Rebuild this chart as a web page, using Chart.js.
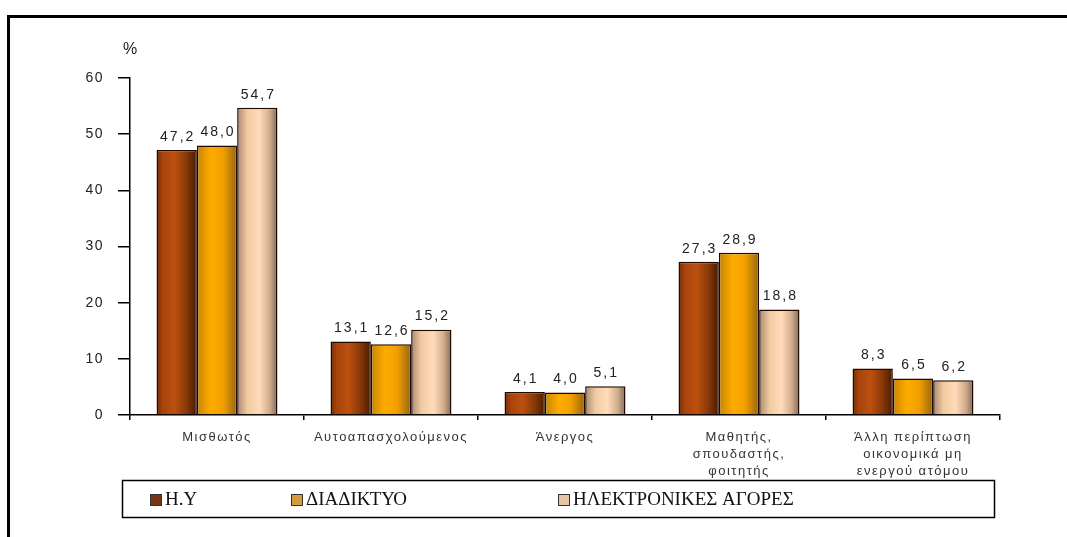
<!DOCTYPE html>
<html>
<head>
<meta charset="utf-8">
<script src="https://cdn.jsdelivr.net/npm/chart.js@4.4.1/dist/chart.umd.min.js"></script>
<style>
  html, body { margin: 0; padding: 0; background: #fff; overflow: hidden; }
  #frame { position: absolute; left: 7px; top: 15px; width: 1100px; height: 560px; border-left: 3px solid #000; border-top: 3px solid #000; }
  #wrap { position: absolute; left: 0; top: 0; width: 1067px; height: 537px; }
</style>
</head>
<body>
<div id="frame"></div>
<div id="wrap"><canvas id="chart"></canvas></div>
<script>
const categories = [
    'Μισθωτός',
    'Αυτοαπασχολούμενος',
    'Άνεργος',
    ['Μαθητής,', 'σπουδαστής,', 'φοιτητής'],
    ['Άλλη περίπτωση', 'οικονομικά μη', 'ενεργού ατόμου']
];
const seriesNames = ['Η.Υ', 'ΔΙΑΔΙΚΤΥΟ', 'ΗΛΕΚΤΡΟΝΙΚΕΣ ΑΓΟΡΕΣ'];
const pcValues = [47.2, 13.1, 4.1, 27.3, 8.3];
const internetValues = [48.0, 12.6, 4.0, 28.9, 6.5];
const eshopValues = [54.7, 15.2, 5.1, 18.8, 6.2];

const CAT_PCT = 0.695;

// shaded fills, left to right across each bar
const pcStops = [[0, '#6e2a02'], [0.15, '#a8440c'], [0.45, '#bc500f'], [0.75, '#863808'], [1, '#4a1a00']];
const internetStops = [[0, '#c88400'], [0.35, '#ffac00'], [0.65, '#f2a000'], [1, '#946410']];
const eshopStops = [[0, '#a88a70'], [0.25, '#f2c9a0'], [0.55, '#ffdcba'], [0.8, '#d4ae8c'], [1, '#7e6a5c']];
const legendColors = ['#7a3412', '#d49a3c', '#e6c6a6'];
const legendX = [150, 291, 558];

function barGradient(stops) {
    return function (context) {
        const chart = context.chart;
        const x = chart.scales.x;
        if (!x || context.dataIndex === undefined) {
            return stops[1][1];
        }
        const catW = x.width / categories.length;
        const slot = catW * CAT_PCT / 3;
        const left = x.getPixelForValue(context.dataIndex) - catW * CAT_PCT / 2 + slot * context.datasetIndex;
        if (!isFinite(left) || !isFinite(slot) || slot <= 0) {
            return stops[1][1];
        }
        const g = chart.ctx.createLinearGradient(left, 0, left + slot, 0);
        stops.forEach(s => g.addColorStop(s[0], s[1]));
        return g;
    };
}

// numbers above each bar, greek decimal comma
const valueLabels = {
    id: 'valueLabels',
    beforeDraw(chart) {
        // a bit of tracking on the axis text too
        chart.ctx.letterSpacing = '1.5px';
    },
    afterDatasetsDraw(chart) {
        const ctx = chart.ctx;
        ctx.save();
        ctx.font = '14px "Liberation Sans", Arial';
        ctx.letterSpacing = '2px';
        ctx.fillStyle = '#222';
        ctx.textAlign = 'center';
        ctx.textBaseline = 'bottom';
        chart.data.datasets.forEach((ds, i) => {
            chart.getDatasetMeta(i).data.forEach((bar, j) => {
                ctx.fillText(ds.data[j].toFixed(1).replace('.', ','), bar.x + 1, bar.y - 6);
            });
        });
        ctx.restore();
    }
};

// boxed legend + "%" unit over the y axis
const extras = {
    id: 'extras',
    afterDraw(chart) {
        const ctx = chart.ctx;
        const area = chart.chartArea;
        ctx.save();
        ctx.letterSpacing = '0px';
        ctx.font = '16px "Liberation Sans", Arial';
        ctx.fillStyle = '#222';
        ctx.textAlign = 'left';
        ctx.textBaseline = 'middle';
        ctx.fillText('%', area.left - 7, area.top - 28);

        ctx.strokeStyle = '#000';
        ctx.lineWidth = 1.5;
        ctx.strokeRect(122.5, 480.5, 872, 37);
        ctx.font = '19px "Liberation Serif", "Times New Roman", serif';
        seriesNames.forEach((name, i) => {
            const x = legendX[i];
            ctx.fillStyle = legendColors[i];
            ctx.fillRect(x, 494, 11, 11);
            ctx.strokeStyle = '#333';
            ctx.lineWidth = 1;
            ctx.strokeRect(x + 0.5, 494.5, 11, 11);
            ctx.fillStyle = '#111';
            ctx.fillText(name, x + 15, 500);
        });
        ctx.restore();
        ctx.letterSpacing = '0px';
    }
};

new Chart(document.getElementById('chart'), {
    type: 'bar',
    data: {
        labels: categories,
        datasets: [
            { label: seriesNames[0], data: pcValues, backgroundColor: barGradient(pcStops) },
            { label: seriesNames[1], data: internetValues, backgroundColor: barGradient(internetStops) },
            { label: seriesNames[2], data: eshopValues, backgroundColor: barGradient(eshopStops) }
        ]
    },
    options: {
        responsive: true,
        maintainAspectRatio: false,
        animation: false,
        datasets: {
            bar: {
                categoryPercentage: CAT_PCT,
                barPercentage: 1,
                borderColor: '#1e0a00',
                borderWidth: 1.5
            }
        },
        layout: {
            padding: { top: 78, right: 67, bottom: 57, left: 0 }
        },
        plugins: {
            legend: { display: false },
            tooltip: { enabled: false }
        },
        scales: {
            x: {
                afterFit: scale => { scale.height = 65; },
                grid: { offset: true, drawOnChartArea: false, tickLength: 5, color: '#000', lineWidth: 1.5 },
                border: { color: '#000', width: 1.5 },
                ticks: {
                    autoSkip: false,
                    maxRotation: 0,
                    padding: 9,
                    color: '#333',
                    font: { family: '"Liberation Sans", Arial', size: 13, lineHeight: 1.3 }
                }
            },
            y: {
                min: 0,
                max: 60,
                afterFit: scale => { scale.width = 130; },
                grid: { drawOnChartArea: false, tickLength: 12, color: '#000', lineWidth: 1.5 },
                border: { color: '#000', width: 1.5 },
                ticks: {
                    stepSize: 10,
                    padding: 14,
                    color: '#222',
                    font: { family: '"Liberation Sans", Arial', size: 14 }
                }
            }
        }
    },
    plugins: [valueLabels, extras]
});
</script>
</body>
</html>
